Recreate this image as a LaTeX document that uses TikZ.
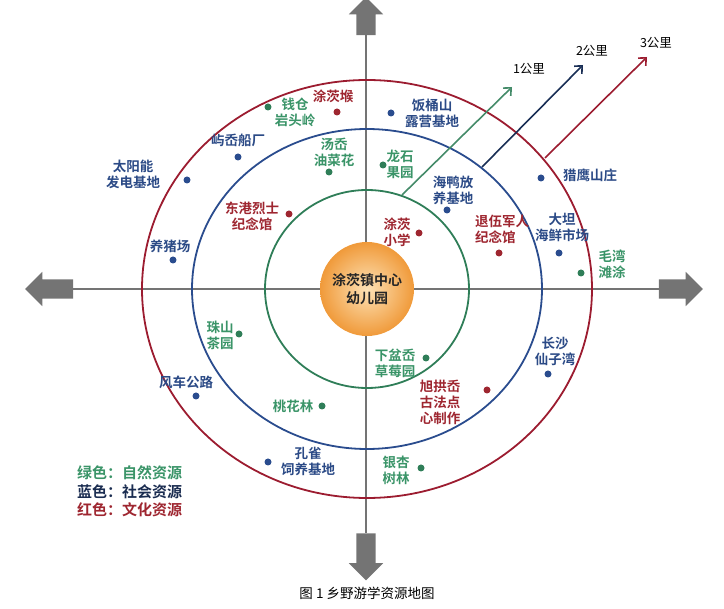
\documentclass[tikz,border=0pt]{standalone}
\usepackage{fontspec}
\usepackage{tikz}
\usetikzlibrary{arrows.meta,shapes.arrows}
\newfontfamily\cjk{Noto Sans CJK SC}[BoldFont={Noto Sans CJK SC Bold}]
\definecolor{natgreen}{HTML}{3A9468}
\definecolor{socblue}{HTML}{2B4A86}
\definecolor{culred}{HTML}{9E2630}
\definecolor{ringgreen}{HTML}{2F7E58}
\definecolor{ringblue}{HTML}{2A4C8E}
\definecolor{ringred}{HTML}{9C1C30}
\definecolor{axisgray}{HTML}{747474}
\definecolor{hubin}{HTML}{FDE2B6}
\definecolor{hubout}{HTML}{F09A3A}

\begin{document}
\begin{tikzpicture}[x=1pt,y=-1pt,
  lbl/.style={font=\cjk\bfseries\fontsize{13.5}{16}\selectfont,align=center,inner sep=0pt},
  natlbl/.style={lbl,text=natgreen},
  soclbl/.style={lbl,text=socblue},
  cullbl/.style={lbl,text=culred},
  spot/.style={circle,inner sep=0pt,minimum size=7pt},
  natspot/.style={spot,fill=ringgreen},
  socspot/.style={spot,fill=ringblue},
  culspot/.style={spot,fill=culred},
  bigarrow/.style={single arrow,fill=axisgray,inner xsep=0pt,inner ysep=9.5pt,minimum width=34pt,
    single arrow head extend=7.5pt,single arrow head indent=0pt},
  ring/.style={line width=1.8pt},
  dist/.style={line width=1.6pt,-{Straight Barb[length=6pt,width=11pt,line width=1.6pt]}},
  keytext/.style={font=\cjk\bfseries\fontsize{15}{18}\selectfont,anchor=west,inner sep=0pt}]
\useasboundingbox (0,0) rectangle (724,609);

% axes
\node[bigarrow,minimum height=48pt,rotate=180] (larr) at (54,289) {};
\node[bigarrow,minimum height=44pt] (rarr) at (676,289) {};
\node[bigarrow,minimum height=38pt,rotate=90] (uarr) at (366,21) {};
\node[bigarrow,minimum height=47pt,rotate=270] (darr) at (366,552) {};
\draw[axisgray,line width=1.4pt] (larr.tail) -- (rarr.tail);
\draw[axisgray,line width=1.4pt] (uarr.tail) -- (darr.tail);

% rings
\coordinate (c) at (367,289);
\draw[ring,ringgreen] (c) ellipse [x radius=102pt,y radius=99pt];
\draw[ring,ringblue] (c) ellipse [x radius=175pt,y radius=160pt];
\draw[ring,ringred] (c) ellipse [x radius=225pt,y radius=209pt];

% distance arrows
\coordinate (g0) at (402,195);
\coordinate (g1) at (512,87);
\coordinate (b0) at (482,167);
\coordinate (b1) at (583,65);
\coordinate (r0) at (545,158);
\coordinate (r1) at (647,57);
\draw[dist,ringgreen!90!white] (g0) -- (g1);
\draw[dist,ringblue!60!black] (b0) -- (b1);
\draw[dist,ringred] (r0) -- (r1);
\node[lbl,font=\cjk\fontsize{12.5}{15}\selectfont] (km1) at (529,69) {1公里};
\node[lbl,font=\cjk\fontsize{12.5}{15}\selectfont] (km2) at (592,51) {2公里};
\node[lbl,font=\cjk\fontsize{12.5}{15}\selectfont] (km3) at (656,43) {3公里};

% centre
\node[circle,minimum size=94pt,inner sep=0pt,inner color=hubin,outer color=hubout,
  font=\cjk\bfseries\fontsize{14}{18}\selectfont,align=center,text=black!85] (o) at (c) {涂茨镇中心\\幼儿园};

% natural
\node[natlbl] (qiancang) at (295,112) {钱仓\\岩头岭};
\node[natspot] (d-qiancang) at (268,107) {};
\node[natlbl] (tangao) at (334,152) {汤岙\\油菜花};
\node[natspot] (d-tangao) at (329,172) {};
\node[natlbl] (longshi) at (400,164) {龙石\\果园};
\node[natspot] (d-longshi) at (383,165) {};
\node[natlbl] (maowan) at (612,264) {毛湾\\滩涂};
\node[natspot] (d-maowan) at (581,273) {};
\node[natlbl] (zhushan) at (220,335) {珠山\\茶园};
\node[natspot] (d-zhushan) at (239,334) {};
\node[natlbl] (taohua) at (293,406) {桃花林};
\node[natspot] (d-taohua) at (322,406) {};
\node[natlbl] (xiapen) at (395,363) {下盆岙\\草莓园};
\node[natspot] (d-xiapen) at (426,358) {};
\node[natlbl] (yinxing) at (396,470) {银杏\\树林};
\node[natspot] (d-yinxing) at (421,468) {};

% social
\node[soclbl] (yuao) at (238,140) {屿岙船厂};
\node[socspot] (d-yuao) at (238,157) {};
\node[soclbl] (taiyang) at (133,174) {太阳能\\发电基地};
\node[socspot] (d-taiyang) at (187,180) {};
\node[soclbl] (yangzhu) at (170,246) {养猪场};
\node[socspot] (d-yangzhu) at (173,260) {};
\node[soclbl] (fantong) at (432,113) {饭桶山\\露营基地};
\node[socspot] (d-fantong) at (391,113) {};
\node[soclbl] (haiya) at (453,190) {海鸭放\\养基地};
\node[socspot] (d-haiya) at (447,210) {};
\node[soclbl] (lieying) at (590,175) {猎鹰山庄};
\node[socspot] (d-lieying) at (541,178) {};
\node[soclbl] (datan) at (562,227) {大坦\\海鲜市场};
\node[socspot] (d-datan) at (559,253) {};
\node[soclbl] (fengche) at (186,382) {风车公路};
\node[socspot] (d-fengche) at (196,396) {};
\node[soclbl] (kongque) at (308,461) {孔雀\\饲养基地};
\node[socspot] (d-kongque) at (268,462) {};
\node[soclbl] (changsha) at (555,351) {长沙\\仙子湾};
\node[socspot] (d-changsha) at (548,374) {};

% cultural
\node[cullbl] (tuhou) at (333,96) {涂茨堠};
\node[culspot] (d-tuhou) at (337,112) {};
\node[cullbl] (donggang) at (252,216) {东港烈士\\纪念馆};
\node[culspot] (d-donggang) at (289,214) {};
\node[cullbl] (tuci) at (397,232) {涂茨\\小学};
\node[culspot] (d-tuci) at (419,233) {};
\node[cullbl,align=left,anchor=west] (tuiwu) at (475,229) {退伍军人\\纪念馆};
\node[culspot] (d-tuiwu) at (499,253) {};
\node[cullbl] (xugong) at (440,402) {旭拱岙\\古法点\\心制作};
\node[culspot] (d-xugong) at (487,390) {};

% key
\node[keytext,text=natgreen] (key1) at (77,473) {绿色：自然资源};
\node[keytext,text=socblue!60!black] (key2) at (77,492) {蓝色：社会资源};
\node[keytext,text=culred] (key3) at (77,510) {红色：文化资源};

\node[font=\cjk\fontsize{13.5}{16}\selectfont,inner sep=0pt] (cap) at (367,593) {图 1 乡野游学资源地图};
\end{tikzpicture}
\end{document}
